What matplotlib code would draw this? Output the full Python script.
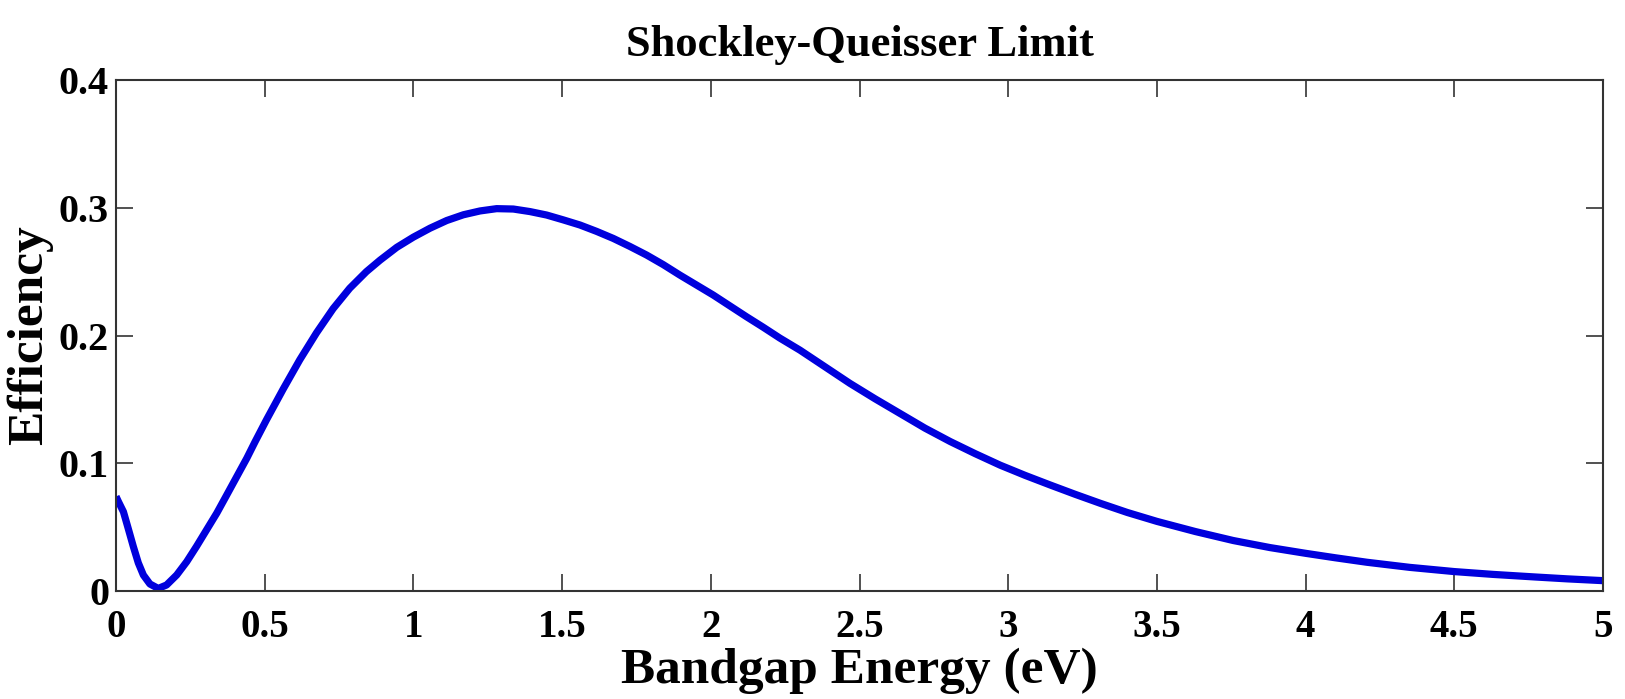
import matplotlib
matplotlib.use('Agg')
import matplotlib.pyplot as plt

# bandgap energy (eV) and efficiency
energy = [0.0, 0.008, 0.025, 0.041, 0.058, 0.075, 0.092, 0.114, 0.142, 0.170,
          0.204, 0.238, 0.271, 0.305, 0.339, 0.372, 0.406, 0.44, 0.468, 0.506,
          0.562, 0.618, 0.674, 0.73, 0.786, 0.842, 0.888, 0.944, 1.0, 1.056,
          1.112, 1.168, 1.224, 1.28, 1.336, 1.392, 1.448, 1.504, 1.56, 1.616,
          1.672, 1.728, 1.784, 1.84, 1.896, 1.952, 2.008, 2.064, 2.12, 2.176,
          2.232, 2.3, 2.384, 2.468, 2.552, 2.636, 2.72, 2.805, 2.889, 2.973,
          3.057, 3.141, 3.225, 3.309, 3.4, 3.5, 3.63, 3.757, 3.88, 4.0,
          4.1, 4.206, 4.35, 4.5, 4.63, 4.77, 4.88, 5.0]
efficiency = [0.074, 0.070, 0.062, 0.049, 0.035, 0.022, 0.0125, 0.0055, 0.002, 0.0047,
              0.0125, 0.023, 0.035, 0.048, 0.061, 0.075, 0.0895, 0.104, 0.117, 0.134,
              0.158, 0.181, 0.202, 0.221, 0.237, 0.250, 0.259, 0.269, 0.277, 0.284,
              0.290, 0.2945, 0.2975, 0.2993, 0.299, 0.297, 0.2943, 0.2905, 0.2865, 0.2815,
              0.276, 0.2697, 0.263, 0.2555, 0.2473, 0.2395, 0.2317, 0.2232, 0.2147, 0.2065,
              0.198, 0.1885, 0.1755, 0.1625, 0.1505, 0.139, 0.1275, 0.117, 0.1075, 0.0985,
              0.0905, 0.083, 0.0757, 0.0687, 0.0615, 0.0545, 0.0465, 0.0395, 0.034, 0.0295,
              0.026, 0.0225, 0.0185, 0.0152, 0.013, 0.011, 0.0095, 0.0081]

x_ticks = [0, 0.5, 1, 1.5, 2, 2.5, 3, 3.5, 4, 4.5, 5]
x_ticklabels = ['0', '0.5', '1', '1.5', '2', '2.5', '3', '3.5', '4', '4.5', '5']
y_ticks = [0, 0.1, 0.2, 0.3, 0.4]
y_ticklabels = ['0', '0.1', '0.2', '0.3', '0.4']

plt.rcParams['font.family'] = ['Liberation Serif', 'DejaVu Serif']
plt.rcParams['font.weight'] = 'bold'

fig = plt.figure(figsize=(16.25, 6.99), dpi=100)
ax = fig.add_axes([116 / 1625, 1 - 591 / 699, 1487 / 1625, 511 / 699])

ax.plot(energy, efficiency, color='#0000dd', linewidth=5.2,
        solid_joinstyle='round', solid_capstyle='butt')

ax.set_xlim(0, 5)
ax.set_ylim(0, 0.4)
ax.set_xticks(x_ticks)
ax.set_xticklabels(x_ticklabels, fontsize=28, fontweight='bold')
ax.set_yticks(y_ticks)
ax.set_yticklabels(y_ticklabels, fontsize=29, fontweight='bold')

ax.tick_params(axis='both', direction='in', length=12, width=1.2, color='#333333',
               top=True, right=True)
ax.tick_params(axis='x', pad=13)
ax.tick_params(axis='y', pad=5)
for s in ax.spines.values():
    s.set_color('#333333')
    s.set_linewidth(1.5)

ax.set_xlabel('Bandgap Energy (eV)', fontsize=37, fontweight='bold', labelpad=1)
ax.set_ylabel('Efficiency', fontsize=37, fontweight='bold', labelpad=4)
ax.set_title('Shockley-Queisser Limit', fontsize=32, fontweight='bold', pad=17)

fig.savefig('out.png', dpi=100)
